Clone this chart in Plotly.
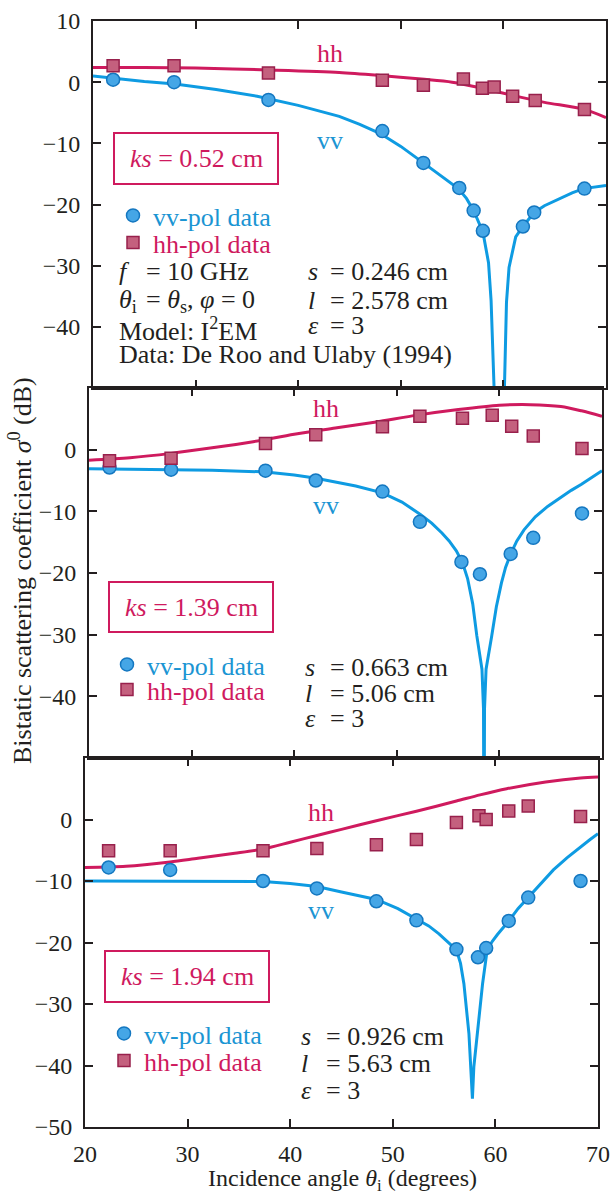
import plotly.graph_objects as go

# ---------------------------------------------------------------- data ----
ANGLE_TICKS = [20, 30, 40, 50, 60, 70]
DB_RANGE = [-50, 10]

KS_LABELS = ["0.52", "1.39", "1.94"]
S_LABELS = ["0.246", "0.663", "0.926"]
L_LABELS = ["2.578", "5.06", "5.63"]
EPS_LABEL = "3"

# ks = 0.52 cm : measured data
p1_vv_ang = [21.96, 27.9, 37.1, 48.2, 52.2, 55.7, 57.1, 58.0, 61.9, 63.0, 67.9]
p1_vv_db = [0.4, 0.0, -2.9, -8.0, -13.2, -17.3, -21.0, -24.3, -23.6, -21.3, -17.4]
p1_hh_ang = [21.96, 27.9, 37.1, 48.2, 52.2, 56.1, 57.95, 59.1, 60.9, 63.1, 67.9]
p1_hh_db = [2.7, 2.7, 1.5, 0.3, -0.5, 0.5, -1.0, -0.8, -2.3, -3.0, -4.45]
# ks = 0.52 cm : I2EM model
p1_vv_model_ang = [20, 22, 25, 28, 32, 36, 40, 44, 46, 48, 50, 52.2, 54, 55.6, 56.4,
                   57.1, 58.0, 58.55, 58.8, 59.0, 59.5, 60.1, 60.3, 60.55, 61.2,
                   61.9, 63.0, 64.0, 65.5, 66.7, 67.8, 69.0, 70]
p1_vv_model_db = [1.0, 0.6, 0.1, -0.3, -1.2, -2.3, -3.8, -5.6, -6.9, -8.4, -10.5,
                  -13.2, -15.4, -17.4, -19.0, -21.0, -24.5, -29.5, -35.7, -50, -70,
                  -50, -36, -30.3, -25.3, -23.6, -21.3, -20.2, -19.0, -18.1, -17.4,
                  -17.1, -16.9]
p1_hh_model_ang = [20, 25, 30, 37, 44, 48, 52, 55, 58, 61, 64, 67.9, 70]
p1_hh_model_db = [2.4, 2.4, 2.3, 2.0, 1.6, 1.1, 0.5, 0.0, -1.0, -2.2, -3.3, -4.45, -5.8]

# ks = 1.39 cm : measured data
p2_vv_ang = [22.0, 28.0, 37.2, 42.1, 48.6, 52.25, 56.3, 58.1, 61.1, 63.3, 68.05]
p2_vv_db = [-2.9, -3.25, -3.4, -5.0, -6.8, -11.7, -18.2, -20.2, -16.9, -14.3, -10.35]
p2_hh_ang = [22.0, 28.0, 37.2, 42.1, 48.6, 52.25, 56.4, 59.3, 61.2, 63.3, 68.05]
p2_hh_db = [-1.8, -1.4, 1.0, 2.4, 3.7, 5.4, 5.1, 5.6, 3.8, 2.2, 0.2]
# ks = 1.39 cm : I2EM model
p2_vv_model_ang = [20, 26, 32, 37, 40, 42, 44, 46, 48.6, 50.5, 52.3, 53.4, 54.4,
                   55.1, 55.8, 56.4, 56.9, 57.4, 57.8, 58.3, 58.45, 58.5, 58.55,
                   58.7, 59.25, 59.7, 60.2, 60.6, 61.1, 61.7, 62.4, 63.5, 64.7,
                   66.0, 67.0, 68.0, 69.0, 70]
p2_vv_model_db = [-3.1, -3.2, -3.35, -3.6, -4.1, -4.6, -5.2, -5.9, -7.0, -8.5,
                  -10.5, -11.9, -13.5, -14.8, -16.4, -18.3, -20.9, -25.0, -30.2,
                  -35.6, -42, -70, -42, -35.6, -30.2, -25.5, -21.6, -19.1, -16.9,
                  -14.8, -13.0, -10.9, -9.2, -7.7, -6.6, -5.6, -4.5, -3.4]
p2_hh_model_ang = [20, 24, 28, 32, 36, 40, 44, 48, 52, 56, 60, 63, 66, 68, 70]
p2_hh_model_db = [-1.7, -1.3, -0.6, 0.3, 1.3, 2.5, 3.5, 4.5, 5.6, 6.5, 7.2, 7.3,
                  7.0, 6.3, 5.4]

# ks = 1.94 cm : measured data
p3_vv_ang = [22.3, 28.3, 37.35, 42.6, 48.4, 52.3, 56.2, 58.3, 59.1, 61.3, 63.2, 68.3]
p3_vv_db = [-7.8, -8.2, -10.0, -11.2, -13.3, -16.4, -21.1, -22.4, -20.9, -16.5, -12.7, -10.0]
p3_hh_ang = [22.3, 28.3, 37.35, 42.6, 48.4, 52.3, 56.2, 58.4, 59.1, 61.3, 63.2, 68.3]
p3_hh_db = [-5.1, -5.1, -5.1, -4.7, -4.1, -3.25, -0.5, 0.6, 0.0, 1.4, 2.2, 0.5]
# ks = 1.94 cm : I2EM model
p3_vv_model_ang = [20, 25, 30, 35, 37.35, 40, 42.6, 45, 46.8, 48.4, 50.5, 52.3, 53.5,
                   54.5, 55.5, 56.2, 56.6, 56.93, 57.42, 57.6, 57.76, 57.9, 58.26,
                   58.75, 59.2, 59.7, 60.2, 61.3, 62.2, 63.2, 64.4, 65.65, 67.0,
                   68.3, 69.2, 70]
p3_vv_model_db = [-10.0, -10.0, -10.0, -10.05, -10.1, -10.4, -10.9, -11.8, -12.4,
                  -13.0, -14.5, -16.1, -17.3, -18.6, -20.1, -21.2, -23.4, -26.7,
                  -34.8, -40.2, -45.4, -40.2, -34.8, -26.7, -21.2, -19.8, -18.7,
                  -16.5, -14.5, -12.7, -10.4, -8.2, -6.2, -4.4, -3.3, -2.3]
p3_hh_model_ang = [20, 24, 28.3, 31, 34.6, 37.35, 40, 42.6, 45, 48.4, 52.3, 56.2,
                   58.5, 61.1, 64.9, 68.3, 70]
p3_hh_model_db = [-7.8, -7.6, -6.9, -6.3, -5.5, -4.8, -3.7, -2.6, -1.6, -0.2, 1.35,
                  3.0, 4.0, 5.0, 6.1, 6.75, 6.9]

# ------------------------------------------------------------- styling ----
W, H = 611, 1196
SERIF = "Liberation Serif"
INK = "#231f20"
BLUE = "#0e9be2"
BLUE_TEXT = "#1b95d3"
MAGENTA = "#cf1a5e"
CIRCLE_FILL = "#45a6e6"
CIRCLE_EDGE = "#1477c0"
SQUARE_FILL = "#c4607e"
SQUARE_EDGE = "#98204c"
FS = 26        # annotation / title text
FS_TICK = 24   # tick labels

# pixel frame of each panel: (left, right), (top, bottom)
PANEL_X = [(93, 606), (89, 602), (85, 598)]
PANEL_Y = [(21, 388), (388, 758), (758, 1127)]


def fx(px):
    return px / W


def fy(py):
    return 1 - py / H


panels = [
    dict(vv=(p1_vv_ang, p1_vv_db), hh=(p1_hh_ang, p1_hh_db),
         vvm=(p1_vv_model_ang, p1_vv_model_db), hhm=(p1_hh_model_ang, p1_hh_model_db)),
    dict(vv=(p2_vv_ang, p2_vv_db), hh=(p2_hh_ang, p2_hh_db),
         vvm=(p2_vv_model_ang, p2_vv_model_db), hhm=(p2_hh_model_ang, p2_hh_model_db)),
    dict(vv=(p3_vv_ang, p3_vv_db), hh=(p3_hh_ang, p3_hh_db),
         vvm=(p3_vv_model_ang, p3_vv_model_db), hhm=(p3_hh_model_ang, p3_hh_model_db)),
]

fig = go.Figure()

# one single-entry legend per data series, so each key sits where it belongs
legend_ids = [("legend", "legend2"), ("legend3", "legend4"), ("legend5", "legend6")]

for i, p in enumerate(panels):
    n = "" if i == 0 else str(i + 1)
    xa, ya = "x" + n, "y" + n
    fig.add_trace(go.Scatter(x=p["hhm"][0], y=p["hhm"][1], mode="lines",
                             line=dict(color=MAGENTA, width=3, shape="spline", smoothing=0.8),
                             xaxis=xa, yaxis=ya, showlegend=False, hoverinfo="skip"))
    fig.add_trace(go.Scatter(x=p["vvm"][0], y=p["vvm"][1], mode="lines",
                             line=dict(color=BLUE, width=3),
                             xaxis=xa, yaxis=ya, showlegend=False, hoverinfo="skip"))
    fig.add_trace(go.Scatter(x=p["vv"][0], y=p["vv"][1], mode="markers",
                             name=f'<span style="color:{BLUE_TEXT}">vv-pol data</span>',
                             marker=dict(symbol="circle", size=13, color=CIRCLE_FILL,
                                         line=dict(color=CIRCLE_EDGE, width=1.5)),
                             xaxis=xa, yaxis=ya, legend=legend_ids[i][0]))
    fig.add_trace(go.Scatter(x=p["hh"][0], y=p["hh"][1], mode="markers",
                             name=f'<span style="color:{MAGENTA}">hh-pol data</span>',
                             marker=dict(symbol="square", size=12, color=SQUARE_FILL,
                                         line=dict(color=SQUARE_EDGE, width=1.5)),
                             xaxis=xa, yaxis=ya, legend=legend_ids[i][1]))

layout = dict(width=W, height=H,
              margin=dict(l=0, r=0, t=0, b=0, pad=0, autoexpand=False),
              paper_bgcolor="white", plot_bgcolor="white",
              font=dict(family=SERIF, size=FS, color=INK))

axis_common = dict(showline=True, linecolor=INK, linewidth=2, mirror="ticks",
                   ticks="inside", ticklen=8, tickwidth=2, tickcolor=INK,
                   showgrid=False, zeroline=False,
                   tickfont=dict(family=SERIF, size=FS_TICK, color=INK))

y_ticks = [[10, 0, -10, -20, -30, -40], [0, -10, -20, -30, -40], [0, -10, -20, -30, -40, -50]]

for i in range(3):
    n = "" if i == 0 else str(i + 1)
    (l, r), (t, b) = PANEL_X[i], PANEL_Y[i]
    layout["xaxis" + n] = dict(axis_common, domain=[fx(l), fx(r)], anchor="y" + n,
                               range=[20, 70], tickvals=ANGLE_TICKS,
                               showticklabels=(i == 2), ticklabelstandoff=4)
    layout["yaxis" + n] = dict(axis_common, domain=[fy(b), fy(t)], anchor="x" + n,
                               range=DB_RANGE, tickvals=y_ticks[i], ticklabelstandoff=6)

# marker centres of the legend keys (vv, hh) in each panel
key_centres = [((131, 218), (131, 245)), ((125, 667), (125, 692)), ((122, 1036), (122, 1063))]
for i in range(3):
    for j in range(2):
        cx, cy = key_centres[i][j]
        layout[legend_ids[i][j]] = dict(x=fx(cx - 18), y=fy(cy - 26), xanchor="left",
                                        yanchor="top", bgcolor="rgba(0,0,0,0)",
                                        borderwidth=0, font=dict(family=SERIF, size=FS))

fig.update_layout(**layout)


def note(px, py, text, color=INK, xanchor="left", size=FS, angle=0):
    fig.add_annotation(x=fx(px), y=fy(py), xref="paper", yref="paper", text=text,
                       showarrow=False, xanchor=xanchor, yanchor="middle",
                       textangle=angle,
                       font=dict(family=SERIF, size=size, color=color))


# curve labels
hh_lbl = [(330, 53), (326, 408), (321, 812)]
vv_lbl = [(330, 140), (326, 505), (321, 910)]
for i in range(3):
    note(*hh_lbl[i], "hh", color=MAGENTA, xanchor="center")
    note(*vv_lbl[i], "vv", color=BLUE_TEXT, xanchor="center")

# boxed ks labels
ks_box = [(114, 133, 278, 184), (109, 582, 273, 632), (105, 951, 269, 1002)]
for i, (x0, y0, x1, y1) in enumerate(ks_box):
    fig.add_shape(type="rect", xref="paper", yref="paper",
                  x0=fx(x0), x1=fx(x1), y0=fy(y0), y1=fy(y1),
                  line=dict(color=MAGENTA, width=2), fillcolor="rgba(0,0,0,0)")
    note((x0 + x1) / 2, (y0 + y1) / 2, f"<i>ks</i> = {KS_LABELS[i]} cm",
         color=MAGENTA, xanchor="center")

# surface parameters
par_col = [(306, 328, 272, 300, 325), (303, 328, 667, 693, 718), (299, 324, 1036, 1063, 1090)]
for i, (xs, xe, ys, yl, ye) in enumerate(par_col):
    note(xs, ys, "<i>s</i>")
    note(xe, ys, f"= {S_LABELS[i]} cm")
    note(xs, yl, "<i>l</i>")
    note(xe, yl, f"= {L_LABELS[i]} cm")
    note(xs, ye, "<i>ε</i>")
    note(xe, ye, f"= {EPS_LABEL}")

# measurement conditions (top panel)
note(117, 272, "<i>f</i>")
note(144, 272, "= 10 GHz")
note(117, 301, "<i>θ</i><sub>i</sub>")
note(144, 301, "= <i>θ</i><sub>s</sub>, <i>φ</i> = 0")
note(117, 329, "Model: I<sup>2</sup>EM")
note(117, 355, "Data: De Roo and Ulaby (1994)")

# axis titles
note(342, 1180, "Incidence angle <i>θ</i><sub>i</sub> (degrees)", xanchor="center", size=24)
note(20, 571, "Bistatic scattering coefficient <i>σ</i><sup>0</sup> (dB)",
     xanchor="center", angle=-90)

fig.write_html("out.html")
